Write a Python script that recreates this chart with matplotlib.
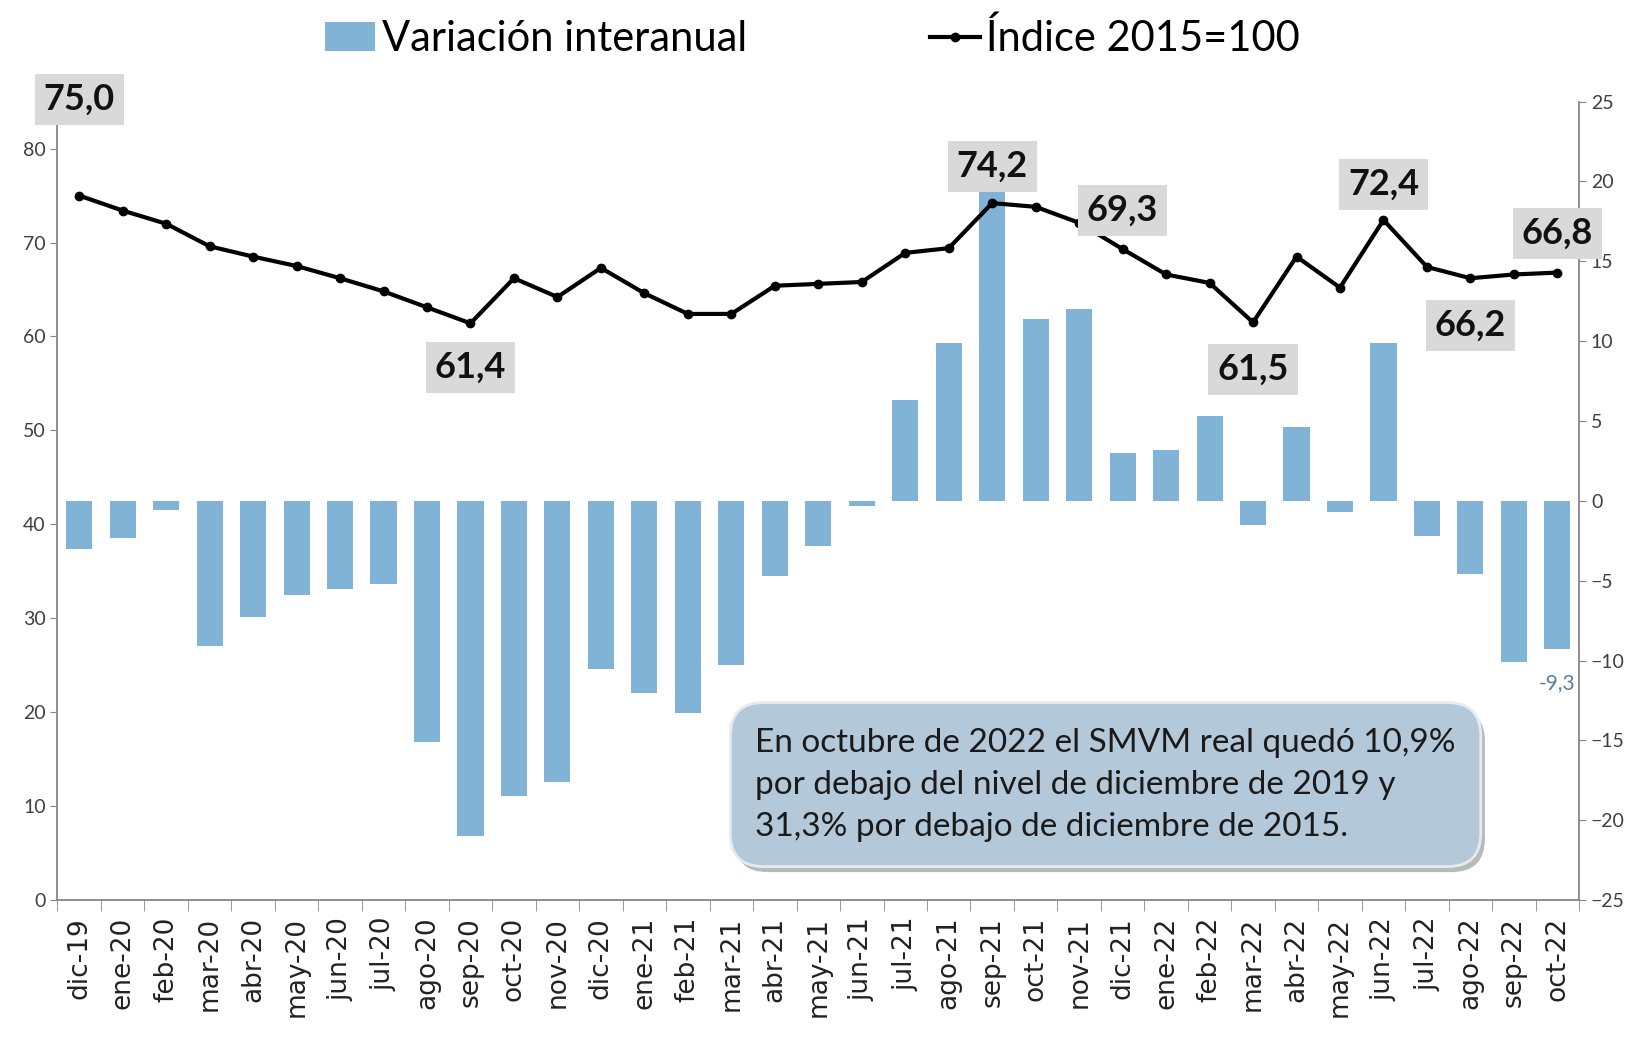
import matplotlib.pyplot as plt
import matplotlib.patheffects as pe
import numpy as np

meses = ['dic-19', 'ene-20', 'feb-20', 'mar-20', 'abr-20', 'may-20', 'jun-20', 'jul-20',
         'ago-20', 'sep-20', 'oct-20', 'nov-20', 'dic-20', 'ene-21', 'feb-21', 'mar-21',
         'abr-21', 'may-21', 'jun-21', 'jul-21', 'ago-21', 'sep-21', 'oct-21', 'nov-21',
         'dic-21', 'ene-22', 'feb-22', 'mar-22', 'abr-22', 'may-22', 'jun-22', 'jul-22',
         'ago-22', 'sep-22', 'oct-22']

indice = [75.0, 73.4, 72.0, 69.6, 68.5, 67.5, 66.2, 64.8, 63.1, 61.4, 66.2, 64.2,
          67.3, 64.6, 62.4, 62.4, 65.4, 65.6, 65.8, 68.9, 69.4, 74.2, 73.8, 72.1,
          69.3, 66.6, 65.7, 61.5, 68.5, 65.2, 72.4, 67.4, 66.2, 66.6, 66.8]

variacion = [-3.0, -2.3, -0.6, -9.1, -7.3, -5.9, -5.5, -5.2, -15.1, -21.0, -18.5, -17.6,
             -10.5, -12.0, -13.3, -10.3, -4.7, -2.8, -0.3, 6.3, 9.9, 20.8, 11.4, 12.0,
             3.0, 3.2, 5.3, -1.5, 4.6, -0.7, 9.9, -2.2, -4.6, -10.1, -9.3]

# etiquetas destacadas: (indice del mes, texto, posicion vertical)
etiquetas = [(0, '75,0', 85.2), (9, '61,4', 56.7), (21, '74,2', 78.1), (24, '69,3', 73.4),
             (27, '61,5', 56.5), (30, '72,4', 76.2), (32, '66,2', 61.2), (34, '66,8', 71.0)]

nota = ('En octubre de 2022 el SMVM real quedó 10,9%\n'
        'por debajo del nivel de diciembre de 2019 y\n'
        '31,3% por debajo de diciembre de 2015.')

fuente = ['Lato', 'DejaVu Sans']
gris = '#868686'

fig = plt.figure(figsize=(16.42, 10.37), dpi=100)
ax = fig.add_axes([0.035, 0.132, 0.9267, 0.770])
ax2 = ax.twinx()
ax.set_zorder(ax2.get_zorder() + 1)
ax.patch.set_visible(False)

x = np.arange(len(meses))
b = ax2.bar(x, variacion, width=0.6, color='#80b3d6', label='Variación interanual', zorder=1)
l, = ax.plot(x, indice, color='black', lw=3, marker='o', ms=6, label='Índice 2015=100', zorder=3)

ax.set_xlim(-0.5, len(meses) - 0.5)
ax.set_ylim(0, 85)
ax2.set_ylim(-25, 25)
ax.set_yticks(np.arange(0, 81, 10))
ax2.set_yticks(np.arange(-25, 26, 5))

ax.set_xticks(x)
ax.set_xticklabels(meses, rotation=90, fontsize=19, family='DejaVu Sans', color='#222222')
ax.set_xticks(np.arange(-0.5, len(meses), 1), minor=True)
ax.tick_params(axis='x', which='major', length=0, pad=12)
ax.tick_params(axis='x', which='minor', length=8, color=gris)
ax.tick_params(axis='y', length=5, color=gris, labelsize=14, labelcolor='#404040')
ax2.tick_params(axis='y', length=5, color=gris, labelsize=14, labelcolor='#404040')
for t in ax.get_yticklabels() + ax2.get_yticklabels():
    t.set_family(fuente)

for a in (ax, ax2):
    a.spines['top'].set_visible(False)
    for s in ('left', 'right', 'bottom'):
        a.spines[s].set_color(gris)
        a.spines[s].set_linewidth(1.3)
ax.spines['right'].set_visible(False)
ax2.spines['left'].set_visible(False)
ax2.spines['bottom'].set_visible(False)

for i, txt, y in etiquetas:
    ax.text(i, y, txt, ha='center', va='center', fontsize=26, fontweight='bold',
            family=fuente, color='#111111', zorder=5, clip_on=False,
            bbox=dict(boxstyle='square,pad=0.25', fc='#d9d9d9', ec='none'))

ax2.text(x[-1], -11.4, '-9,3', ha='center', va='center', fontsize=15,
         family=fuente, color='#5a7fa0')

caja = ax.text(15.55, 12.3, nota, ha='left', va='center', fontsize=24, family=fuente,
               color='#1a1a1a', linespacing=1.5, zorder=6,
               bbox=dict(boxstyle='round,pad=0.75,rounding_size=1.0', fc='#b3c9d9',
                         ec='#e4ebf1', lw=2))
caja.get_bbox_patch().set_path_effects([pe.withSimplePatchShadow(offset=(3, -4), alpha=0.35)])

fig.legend([b, l], ['Variación interanual', 'Índice 2015=100'], loc='upper center',
           bbox_to_anchor=(0.495, 1.018), ncol=2, frameon=False, columnspacing=4.4,
           handlelength=1.2, handletextpad=0.15, prop={'family': fuente, 'size': 30})

fig.savefig('out.png', dpi=100)
